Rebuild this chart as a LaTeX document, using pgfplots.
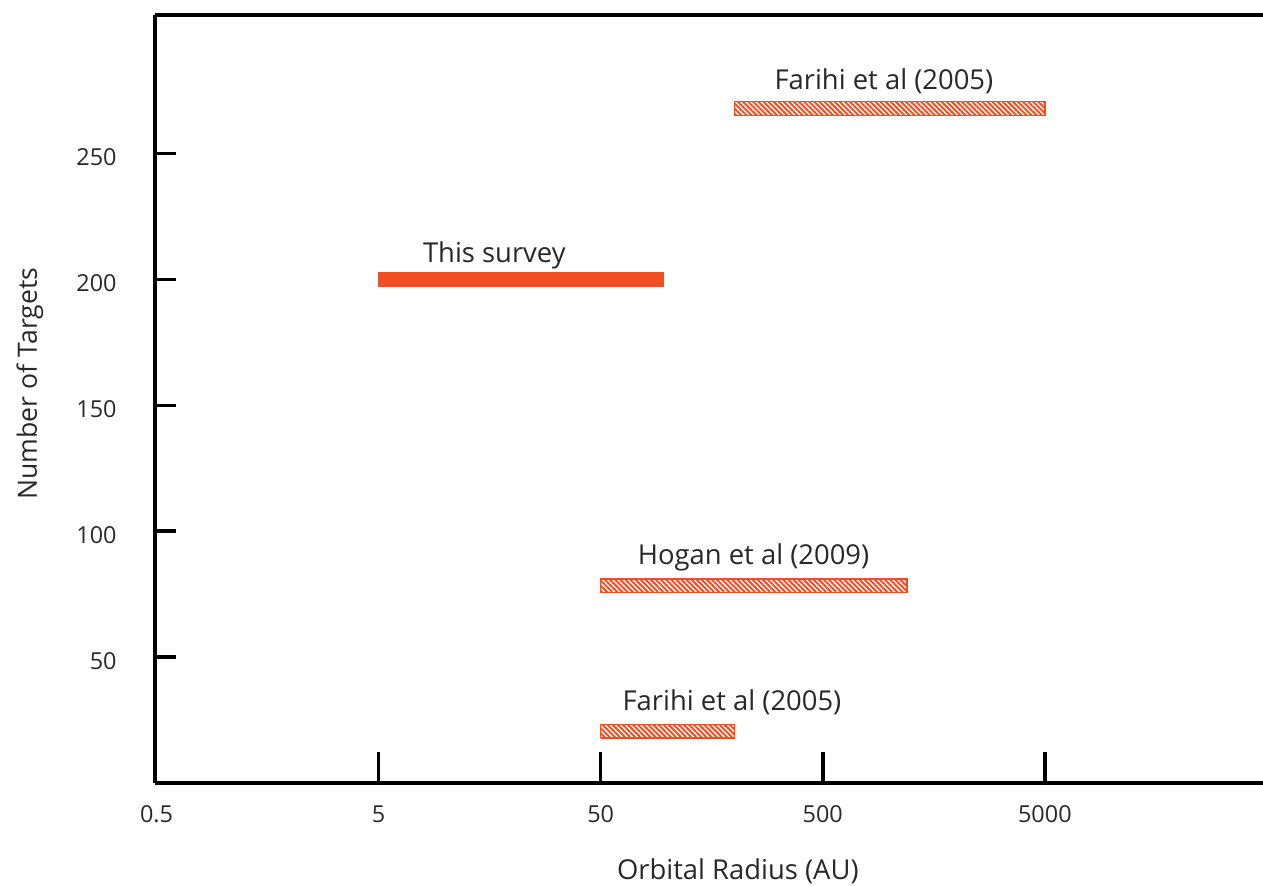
\documentclass[border=0pt]{standalone}
\usepackage{pgfplots}
\pgfplotsset{compat=1.18}
\usepackage{fontspec}
\setmainfont{Open Sans}
\usetikzlibrary{patterns.meta}
\definecolor{barred}{RGB}{240,78,35}
\definecolor{txt}{RGB}{40,40,40}
\begin{document}
\begin{tikzpicture}
\useasboundingbox (-77.5bp,-51.5bp) rectangle (554bp,391.5bp);
\begin{axis}[
  at={(0,0)}, anchor=south west,
  scale only axis, width=554bp, height=384bp,
  xmode=log, log basis x=10,
  xmin=0.4923, xmax=48000, ymin=0, ymax=305,
  axis x line=box, axis y line=left,
  axis line style={-, line width=2bp, black},
  xtick={5,50,500,5000},
  xticklabels={5,50,500,5000},
  extra x ticks={0.5},
  extra x tick labels={0.5},
  extra x tick style={xtick style={draw=none}},
  ytick={50,100,150,200,250},
  xtick pos=left, ytick pos=left,
  tick align=inside,
  minor tick num=0,
  xminorticks=false,
  xtick style={line width=1.75bp, black, /pgfplots/major tick length=15.5bp},
  ytick style={line width=1.75bp, black, /pgfplots/major tick length=10.5bp},
  xticklabel style={font=\fontsize{11.7bp}{13bp}\selectfont, text=txt, inner sep=0pt, anchor=north, yshift=-11bp},
  yticklabel style={font=\fontsize{11.7bp}{13bp}\selectfont, text=txt, inner sep=0pt, anchor=east, xshift=-19bp, yshift=-2bp},
  /pgf/number format/assume math mode=true,
  clip=false,
]
% Farihi et al (2005), upper
\addplot[draw=barred, line width=0.75bp, pattern={Lines[angle=-45,distance=1.8bp,line width=1bp]}, pattern color=barred]
  coordinates {(200,265.1) (5000,265.1) (5000,270.6) (200,270.6) (200,265.1)};
% This survey
\addplot[draw=barred, fill=barred, line width=0.5bp]
  coordinates {(5,197.1) (96,197.1) (96,202.6) (5,202.6) (5,197.1)};
% Hogan et al (2009)
\addplot[draw=barred, line width=0.75bp, pattern={Lines[angle=-45,distance=1.8bp,line width=1bp]}, pattern color=barred]
  coordinates {(50,75.6) (1200,75.6) (1200,81.1) (50,81.1) (50,75.6)};
% Farihi et al (2005), lower
\addplot[draw=barred, line width=0.75bp, pattern={Lines[angle=-45,distance=1.8bp,line width=1bp]}, pattern color=barred]
  coordinates {(50,17.8) (200,17.8) (200,23.2) (50,23.2) (50,17.8)};

\node[anchor=base, text=txt, font=\fontsize{13.7bp}{16bp}\selectfont] at (axis cs:942,275.3) {Farihi et al (2005)};
\node[anchor=base, text=txt, font=\fontsize{13.7bp}{16bp}\selectfont] at (axis cs:16.6,206.8) {This survey};
\node[anchor=base, text=txt, font=\fontsize{13.7bp}{16bp}\selectfont] at (axis cs:244,86.8) {Hogan et al (2009)};
\node[anchor=base, text=txt, font=\fontsize{13.7bp}{16bp}\selectfont] at (axis cs:195,28.6) {Farihi et al (2005)};

\node[anchor=base, text=txt, font=\fontsize{13.7bp}{16bp}\selectfont] at ([yshift=-48bp]rel axis cs:0.526,0) {Orbital Radius (AU)};
\node[anchor=base, rotate=90, text=txt, font=\fontsize{13.3bp}{16bp}\selectfont] at ([xshift=-59bp]rel axis cs:0,0.52) {Number of Targets};
\end{axis}
\end{tikzpicture}
\end{document}
